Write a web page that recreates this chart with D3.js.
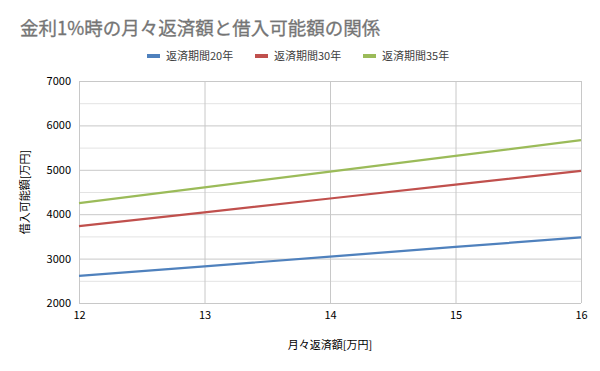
<!DOCTYPE html>
<html>
<head>
<meta charset="utf-8">
<script src="https://cdn.jsdelivr.net/npm/d3@7"></script>
<style>
  body { margin: 0; background: #fff; }
  text { font-family: "Noto Sans CJK JP", "Noto Sans", sans-serif; }
</style>
</head>
<body>
<div id="chart"></div>
<script>
// 月々返済額[万円]
const payments = [12, 13, 14, 15, 16];
// 借入可能額[万円]
const years20 = [2609, 2827, 3044, 3262, 3479];
const years30 = [3731, 4042, 4353, 4664, 4975];
const years35 = [4251, 4605, 4959, 5313, 5668];
const seriesNames = ["返済期間20年", "返済期間30年", "返済期間35年"];
const seriesColors = ["#4f81bd", "#c0504d", "#9bbb59"];
const yTicks = [2000, 3000, 4000, 5000, 6000, 7000];
const yMinorTicks = [2500, 3500, 4500, 5500, 6500];

const width = 600;
const height = 371;
const margin = {left: 79, right: 19, top: 81, bottom: 68};

const svg = d3.select('#chart').append('svg')
    .attr('width', width)
    .attr('height', height);

const x = d3.scaleLinear()
    .domain([12, 16])
    .range([margin.left, width - margin.right]);

const y = d3.scaleLinear()
    .domain([2000, 7000])
    .range([height - margin.bottom, margin.top]);

// タイトル
svg.append('text')
    .attr('x', 20)
    .attr('y', 35)
    .attr('font-size', 18.5)
    .attr('fill', '#757575')
    .attr('stroke', '#757575')
    .attr('stroke-width', 0.3)
    .text('金利1%時の月々返済額と借入可能額の関係');

// 凡例
const legendX = [147, 255, 363];
seriesNames.forEach(function (name, i) {
    const g = svg.append('g').attr('transform', `translate(${legendX[i]},56)`);
    g.append('rect')
        .attr('x', 0).attr('y', -2)
        .attr('width', 13).attr('height', 4)
        .attr('fill', seriesColors[i]);
    g.append('text')
        .attr('x', 19).attr('y', 4)
        .attr('font-size', 11)
        .attr('fill', '#404040')
        .text(name);
});

// 補助目盛線
svg.append('g')
    .selectAll('line')
    .data(yMinorTicks)
    .join('line')
    .attr('x1', margin.left).attr('x2', width - margin.right)
    .attr('y1', d => y(d) + 0.5).attr('y2', d => y(d) + 0.5)
    .attr('stroke', '#e3e3e3');

// 目盛線
svg.append('g')
    .selectAll('line')
    .data(yTicks)
    .join('line')
    .attr('x1', margin.left).attr('x2', width - margin.right)
    .attr('y1', d => y(d) + 0.5).attr('y2', d => y(d) + 0.5)
    .attr('stroke', '#c8c8c8');

svg.append('g')
    .selectAll('line')
    .data(payments)
    .join('line')
    .attr('x1', d => x(d) + 0.5).attr('x2', d => x(d) + 0.5)
    .attr('y1', margin.top).attr('y2', height - margin.bottom)
    .attr('stroke', '#c8c8c8');

// 軸ラベル
const yAxis = d3.axisLeft(y).tickValues(yTicks).tickFormat(d3.format('d')).tickSize(0).tickPadding(8);
svg.append('g')
    .attr('transform', `translate(${margin.left},0)`)
    .call(yAxis)
    .call(g => g.select('.domain').remove())
    .selectAll('text')
    .attr('font-size', 11)
    .attr('fill', '#000');

const xAxis = d3.axisBottom(x).tickValues(payments).tickFormat(d3.format('d')).tickSize(0).tickPadding(8);
svg.append('g')
    .attr('transform', `translate(0,${height - margin.bottom})`)
    .call(xAxis)
    .call(g => g.select('.domain').remove())
    .selectAll('text')
    .attr('font-size', 11)
    .attr('fill', '#000');

// 系列
const allSeries = [years20, years30, years35];
const line = d3.line()
    .x((d, i) => x(payments[i]))
    .y(d => y(d));

allSeries.forEach(function (values, i) {
    svg.append('path')
        .datum(values)
        .attr('d', line)
        .attr('fill', 'none')
        .attr('stroke', seriesColors[i])
        .attr('stroke-width', 2.2);
});

// 軸タイトル
svg.append('text')
    .attr('transform', `translate(29,${(margin.top + height - margin.bottom) / 2}) rotate(-90)`)
    .attr('text-anchor', 'middle')
    .attr('font-size', 11)
    .attr('fill', '#000')
    .text('借入可能額[万円]');

svg.append('text')
    .attr('x', 330)
    .attr('y', 349)
    .attr('text-anchor', 'middle')
    .attr('font-size', 11)
    .attr('fill', '#000')
    .text('月々返済額[万円]');
</script>
</body>
</html>
